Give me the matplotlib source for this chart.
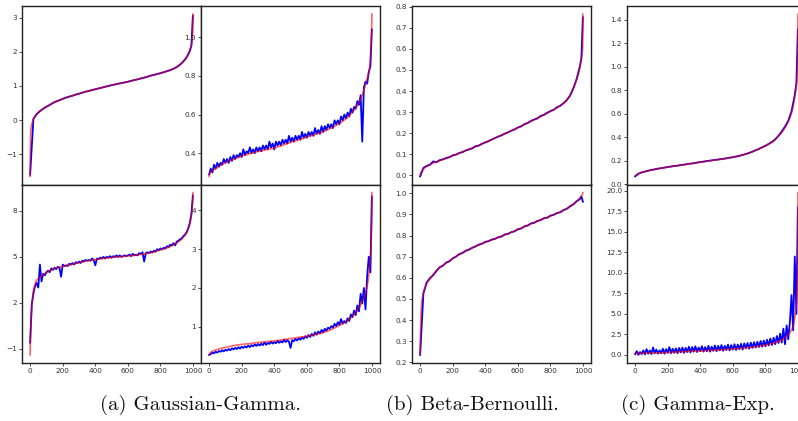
import matplotlib

matplotlib.use("Agg")
import matplotlib.pyplot as plt

# sample index of the "true" (red) curves
RED_X = [0, 1, 3, 6, 10, 20, 35, 50, 75, 100, 150, 200, 250, 300, 350, 400, 450,
         500, 550, 600, 650, 700, 750, 800, 850, 900, 925, 950, 965, 975, 985,
         990, 995, 998, 999]
# sample index of the estimated (blue) curves
BLUE_X_FINE = list(range(0, 1000, 10)) + [999]
BLUE_X_COARSE = list(range(0, 1000, 20)) + [990, 999]

# (a) Gaussian-Gamma, top-left
gg_tl_red = [-1.65, -0.9, -0.38, -0.22, -0.12, 0.03, 0.15, 0.22, 0.31, 0.39, 0.52,
             0.62, 0.70, 0.77, 0.84, 0.90, 0.96, 1.02, 1.07, 1.12, 1.18, 1.24, 1.31,
             1.37, 1.44, 1.55, 1.64, 1.76, 1.86, 1.96, 2.10, 2.18, 2.32, 2.55, 3.10]
gg_tl_blue = [-1.60, 0.03, 0.17, 0.26, 0.33, 0.39, 0.44, 0.50, 0.545, 0.58,
              0.62, 0.655, 0.685, 0.71, 0.745, 0.77, 0.80, 0.83, 0.85, 0.878,
              0.90, 0.925, 0.947, 0.973, 0.995, 1.02, 1.04, 1.062, 1.08, 1.10,
              1.12, 1.146, 1.17, 1.19, 1.217, 1.24, 1.268, 1.30, 1.32, 1.347,
              1.37, 1.40, 1.432, 1.46, 1.50, 1.55, 1.62, 1.71, 1.83, 2.02,
              2.18, 3.05]
# (a) Gaussian-Gamma, top-right
gg_tr_red = [0.280, 0.285, 0.292, 0.298, 0.303, 0.311, 0.318, 0.326, 0.340, 0.352,
             0.369, 0.385, 0.398, 0.409, 0.418, 0.427, 0.441, 0.456, 0.469, 0.483,
             0.497, 0.511, 0.531, 0.553, 0.585, 0.633, 0.670, 0.725, 0.772, 0.800,
             0.840, 0.890, 0.980, 1.050, 1.120]
gg_tr_blue = [0.29, 0.32, 0.30, 0.34, 0.32, 0.35, 0.33, 0.35, 0.34, 0.37,
              0.35, 0.37, 0.35, 0.38, 0.36, 0.39, 0.37, 0.39, 0.38, 0.40,
              0.38, 0.42, 0.39, 0.41, 0.40, 0.43, 0.40, 0.42, 0.40, 0.43,
              0.41, 0.43, 0.41, 0.44, 0.42, 0.44, 0.42, 0.46, 0.43, 0.45,
              0.42, 0.46, 0.44, 0.46, 0.44, 0.47, 0.45, 0.47, 0.45, 0.49,
              0.46, 0.48, 0.46, 0.49, 0.47, 0.49, 0.47, 0.51, 0.48, 0.50,
              0.48, 0.51, 0.49, 0.51, 0.49, 0.53, 0.50, 0.52, 0.50, 0.54,
              0.51, 0.54, 0.52, 0.55, 0.53, 0.55, 0.53, 0.57, 0.55, 0.57,
              0.55, 0.59, 0.57, 0.60, 0.58, 0.61, 0.59, 0.63, 0.61, 0.64,
              0.63, 0.67, 0.65, 0.70, 0.46, 0.74, 0.77, 0.76, 0.82, 0.85, 1.04]
# (a) Gaussian-Gamma, bottom-left
gg_bl_red = [-1.4, -0.6, 0.1, 0.9, 1.7, 2.8, 3.4, 3.6, 3.8, 4.0, 4.25, 4.38, 4.5,
             4.62, 4.74, 4.83, 4.9, 4.96, 5.01, 5.06, 5.12, 5.19, 5.28, 5.45, 5.62,
             5.9, 6.1, 6.4, 6.65, 6.95, 7.4, 7.7, 8.2, 8.7, 9.2]
gg_bl_blue = [-0.6, 1.9, 2.6, 3.1, 3.3, 3.0, 4.5, 3.4, 3.9, 3.8,
              4.0, 4.1, 4.0, 4.25, 4.15, 4.3, 4.2, 4.35, 4.3, 3.7,
              4.5, 4.4, 4.45, 4.4, 4.55, 4.5, 4.6, 4.5, 4.65, 4.6,
              4.7, 4.6, 4.75, 4.7, 4.8, 4.75, 4.8, 4.75, 4.9, 4.8,
              4.45, 4.9, 4.85, 4.95, 4.9, 5.0, 4.9, 5.0, 4.95, 5.05,
              4.95, 5.05, 5.0, 5.1, 5.0, 5.1, 5.0, 5.05, 5.1, 5.05,
              5.1, 5.15, 5.05, 5.2, 5.1, 5.15, 5.1, 5.25, 5.2, 5.3,
              4.7, 5.25, 5.3, 5.25, 5.35, 5.3, 5.4, 5.35, 5.5, 5.45,
              5.55, 5.5, 5.6, 5.55, 5.7, 5.65, 5.8, 5.75, 5.9, 5.75,
              6.0, 6.05, 6.15, 6.2, 6.35, 6.45, 6.6, 6.85, 7.2, 7.8, 9.0]
# (a) Gaussian-Gamma, bottom-right
gg_br_red = [0.29, 0.30, 0.31, 0.33, 0.35, 0.37, 0.40, 0.42, 0.45, 0.47, 0.52,
             0.55, 0.57, 0.60, 0.62, 0.64, 0.67, 0.70, 0.73, 0.76, 0.80, 0.85,
             0.93, 1.04, 1.15, 1.36, 1.52, 1.76, 1.96, 2.15, 2.50, 2.72, 3.2, 3.8,
             4.45]
gg_br_blue = [0.28, 0.30, 0.34, 0.32, 0.36, 0.34, 0.38, 0.36, 0.40, 0.37,
              0.41, 0.39, 0.43, 0.40, 0.45, 0.42, 0.46, 0.43, 0.48, 0.44,
              0.49, 0.46, 0.50, 0.47, 0.52, 0.48, 0.53, 0.50, 0.55, 0.51,
              0.56, 0.52, 0.57, 0.53, 0.60, 0.54, 0.59, 0.56, 0.62, 0.57,
              0.61, 0.58, 0.64, 0.59, 0.63, 0.60, 0.67, 0.61, 0.66, 0.62,
              0.46, 0.66, 0.63, 0.69, 0.65, 0.71, 0.67, 0.73, 0.69, 0.76,
              0.72, 0.79, 0.74, 0.82, 0.77, 0.86, 0.80, 0.88, 0.83, 0.92,
              0.86, 0.95, 0.90, 0.98, 0.95, 1.02, 0.98, 1.08, 1.02, 1.12,
              1.05, 1.20, 1.08, 1.15, 1.10, 1.22, 1.15, 1.32, 1.25, 1.42,
              1.30, 1.55, 1.40, 1.85, 1.60, 2.00, 1.45, 2.30, 2.80, 2.40, 4.35]

# (b) Beta-Bernoulli, top
bb_t_red = [0.0, 0.005, 0.01, 0.015, 0.02, 0.03, 0.04, 0.046, 0.056, 0.064, 0.078,
            0.093, 0.108, 0.124, 0.139, 0.156, 0.174, 0.191, 0.208, 0.226, 0.245,
            0.264, 0.283, 0.303, 0.325, 0.355, 0.385, 0.43, 0.465, 0.49, 0.535,
            0.555, 0.58, 0.61, 0.765]
bb_t_blue = [-0.005, 0.035, 0.045, 0.050, 0.066, 0.062, 0.072, 0.076, 0.082, 0.086,
             0.095, 0.098, 0.106, 0.110, 0.118, 0.123, 0.128, 0.138, 0.141, 0.150,
             0.156, 0.162, 0.170, 0.177, 0.184, 0.190, 0.198, 0.204, 0.212, 0.218,
             0.227, 0.232, 0.243, 0.248, 0.258, 0.265, 0.270, 0.282, 0.287, 0.297,
             0.305, 0.311, 0.323, 0.330, 0.342, 0.357, 0.378, 0.412, 0.455, 0.515,
             0.555, 0.750]
# (b) Beta-Bernoulli, bottom
bb_b_red = [0.24, 0.30, 0.36, 0.44, 0.49, 0.53, 0.565, 0.585, 0.61, 0.635, 0.665,
            0.69, 0.715, 0.735, 0.752, 0.768, 0.782, 0.797, 0.812, 0.828, 0.845,
            0.862, 0.877, 0.892, 0.908, 0.928, 0.94, 0.955, 0.965, 0.972, 0.982,
            0.987, 0.993, 0.997, 1.003]
bb_b_blue = [0.235, 0.525, 0.578, 0.598, 0.612, 0.632, 0.650, 0.657, 0.672, 0.678,
             0.692, 0.700, 0.712, 0.717, 0.728, 0.733, 0.742, 0.748, 0.757, 0.761,
             0.770, 0.773, 0.781, 0.784, 0.792, 0.795, 0.805, 0.808, 0.816, 0.820,
             0.830, 0.833, 0.843, 0.847, 0.857, 0.860, 0.869, 0.873, 0.882, 0.884,
             0.894, 0.898, 0.906, 0.910, 0.920, 0.926, 0.938, 0.947, 0.962, 0.972,
             0.985, 0.960]

# (c) Gamma-Exp, top
ge_t_red = [0.068, 0.07, 0.074, 0.078, 0.082, 0.09, 0.097, 0.104, 0.113, 0.12,
            0.134, 0.145, 0.156, 0.166, 0.176, 0.187, 0.198, 0.207, 0.217, 0.229,
            0.244, 0.265, 0.293, 0.325, 0.365, 0.44, 0.49, 0.565, 0.63, 0.70, 0.79,
            0.85, 0.95, 1.10, 1.45]
ge_t_blue = [0.066, 0.088, 0.100, 0.107, 0.114, 0.121, 0.126, 0.132, 0.136, 0.141,
             0.146, 0.150, 0.155, 0.157, 0.163, 0.166, 0.171, 0.175, 0.178, 0.184,
             0.188, 0.192, 0.197, 0.200, 0.205, 0.208, 0.212, 0.216, 0.220, 0.225,
             0.230, 0.235, 0.242, 0.249, 0.257, 0.266, 0.277, 0.289, 0.300, 0.315,
             0.327, 0.343, 0.360, 0.382, 0.412, 0.450, 0.490, 0.540, 0.620, 0.760,
             0.860, 1.32]
# (c) Gamma-Exp, bottom
ge_b_red = [0.05, 0.10, 0.13, 0.15, 0.16, 0.17, 0.18, 0.19, 0.21, 0.22, 0.25, 0.30,
            0.35, 0.40, 0.45, 0.49, 0.54, 0.59, 0.65, 0.72, 0.80, 0.90, 1.03, 1.20,
            1.42, 1.80, 2.15, 2.70, 3.25, 3.9, 5.2, 6.2, 8.0, 11.0, 19.8]
ge_b_blue = [0.10, 0.45, 0.00, 0.35, 0.10, 0.55, 0.05, 0.70, 0.15, 0.55,
             0.10, 0.90, 0.20, 0.65, 0.15, 0.55, 0.20, 0.75, 0.15, 0.70,
             0.25, 0.95, 0.20, 0.75, 0.25, 0.80, 0.20, 0.85, 0.30, 0.90,
             0.25, 0.85, 0.35, 1.00, 0.30, 0.95, 0.40, 1.05, 0.35, 0.90,
             0.45, 1.05, 0.40, 0.95, 0.45, 1.10, 0.40, 1.00, 0.50, 1.15,
             0.45, 1.10, 0.55, 1.20, 0.50, 1.10, 0.60, 1.25, 0.55, 1.20,
             0.65, 1.30, 0.60, 1.25, 0.70, 1.35, 0.65, 1.40, 0.80, 1.45,
             0.75, 1.50, 0.85, 1.55, 0.90, 1.60, 0.95, 1.70, 1.00, 1.75,
             1.05, 1.85, 1.15, 2.00, 1.20, 2.10, 1.30, 2.30, 1.45, 2.60,
             1.50, 3.20, 1.30, 3.60, 1.90, 4.00, 7.30, 3.00, 12.0, 5.00, 18.0]

X_TICKS = [0, 200, 400, 600, 800, 1000]
CAPTIONS = ["(a) Gaussian-Gamma.", "(b) Beta-Bernoulli.", "(c) Gamma-Exp."]

W, H = 798, 421


def px_axes(fig, x0, y0, w, h):
    # pixel box (top-left origin) -> figure fraction
    return fig.add_axes([x0 / W, 1 - (y0 + h) / H, w / W, h / H])


def draw_panel(ax, bx, blue, red, yticks, bottom):
    ax.plot(bx, blue, color="blue", lw=1.3, zorder=2)
    ax.plot(RED_X, red, color="red", lw=1.2, alpha=0.6, zorder=3)
    ax.set_yticks(yticks)
    if bottom:
        ax.set_xticks(X_TICKS)
    else:
        ax.set_xticks([])
    for s in ax.spines.values():
        s.set_linewidth(1.0)
        s.set_color("#222222")
    ax.tick_params(labelsize=5.2, length=2, width=0.6, pad=1.5, colors="#333333")


def main():
    fig = plt.figure(figsize=(W / 100, H / 100), dpi=100)
    pw, ph = 179, 178.5
    top, mid = 6, 184.5

    ax = px_axes(fig, 22, top, pw, ph)
    draw_panel(ax, BLUE_X_COARSE, gg_tl_blue, gg_tl_red, [-1, 0, 1, 2, 3], False)
    ax = px_axes(fig, 201, top, pw, ph)
    draw_panel(ax, BLUE_X_FINE, gg_tr_blue, gg_tr_red, [0.4, 0.6, 0.8, 1.0], False)
    ax = px_axes(fig, 22, mid, pw, ph)
    draw_panel(ax, BLUE_X_FINE, gg_bl_blue, gg_bl_red, [-1, 2, 5, 8], True)
    ax = px_axes(fig, 201, mid, pw, ph)
    draw_panel(ax, BLUE_X_FINE, gg_br_blue, gg_br_red, [1, 2, 3, 4], True)

    ax = px_axes(fig, 412, top, pw, ph)
    draw_panel(ax, BLUE_X_COARSE, bb_t_blue, bb_t_red,
               [0.0, 0.1, 0.2, 0.3, 0.4, 0.5, 0.6, 0.7, 0.8], False)
    ax = px_axes(fig, 412, mid, pw, ph)
    draw_panel(ax, BLUE_X_COARSE, bb_b_blue, bb_b_red,
               [0.2, 0.3, 0.4, 0.5, 0.6, 0.7, 0.8, 0.9, 1.0], True)

    ax = px_axes(fig, 627, top, pw, ph)
    draw_panel(ax, BLUE_X_COARSE, ge_t_blue, ge_t_red,
               [0.0, 0.2, 0.4, 0.6, 0.8, 1.0, 1.2, 1.4], False)
    ax = px_axes(fig, 627, mid, pw, ph)
    draw_panel(ax, BLUE_X_FINE, ge_b_blue, ge_b_red,
               [0.0, 2.5, 5.0, 7.5, 10.0, 12.5, 15.0, 17.5, 20.0], True)

    for cx, text in zip([200, 472, 698], CAPTIONS):
        fig.text(cx / W, 1 - 405 / H, text, family="cmr10", fontsize=15,
                 ha="center", va="center", color="#111111")

    fig.savefig("out.png", dpi=100)


if __name__ == "__main__":
    main()
